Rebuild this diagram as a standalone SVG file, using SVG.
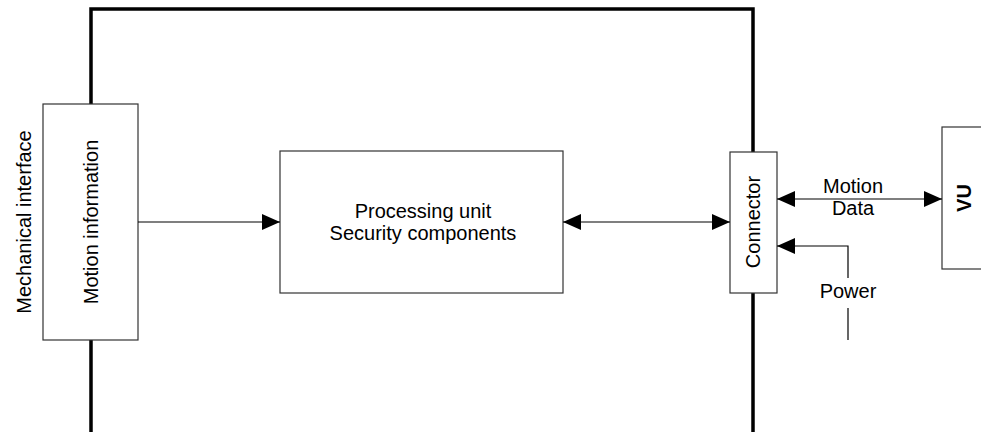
<svg xmlns="http://www.w3.org/2000/svg" width="981" height="432" viewBox="0 0 981 432">
<style>
.box{fill:#fff;stroke:#333;stroke-width:1.2}
.wire{fill:none;stroke:#000;stroke-width:1.2}
.frame{fill:none;stroke:#000;stroke-width:3.5}
text{font-family:"Liberation Sans",Arial,sans-serif;font-size:20px;fill:#000}
.c{text-anchor:middle}
</style>
<defs>
<marker id="ah" markerUnits="userSpaceOnUse" markerWidth="18" markerHeight="16" refX="18" refY="8" orient="auto-start-reverse" viewBox="0 0 18 16">
<path d="M0,0 L18,8 L0,16 Z" fill="#000"/>
</marker>
</defs>
<path class="frame" d="M91,432 V9 H753 V432"/>
<g id="mechanical-interface">
<text class="c" transform="translate(31,222) rotate(-90)">Mechanical interface</text>
</g>
<g id="motion-information">
<rect class="box" x="43" y="104" width="95" height="236"/>
<text class="c" transform="translate(98,222) rotate(-90)">Motion information</text>
</g>
<g id="processing-unit">
<rect class="box" x="280" y="151" width="283" height="142"/>
<text class="c" x="423" y="218">Processing unit</text>
<text class="c" x="423" y="240">Security components</text>
</g>
<g id="connector">
<rect class="box" x="730" y="152" width="47" height="141"/>
<text class="c" transform="translate(760,222) rotate(-90)">Connector</text>
</g>
<g id="vu">
<rect class="box" x="942" y="127" width="60" height="142"/>
<text class="c" style="font-weight:bold" transform="translate(971,198) rotate(-90)">VU</text>
</g>
<g id="connectors">
<line class="wire" x1="138" y1="222" x2="280" y2="222" marker-end="url(#ah)"/>
<line class="wire" x1="563" y1="222" x2="730" y2="222" marker-start="url(#ah)" marker-end="url(#ah)"/>
<line class="wire" x1="777" y1="199" x2="942" y2="199" marker-start="url(#ah)" marker-end="url(#ah)"/>
<path class="wire" d="M848,278 V246 H777" marker-end="url(#ah)"/>
<line class="wire" x1="848" y1="308" x2="848" y2="340"/>
<text class="c" x="853" y="193">Motion</text>
<text class="c" x="853" y="215">Data</text>
<text class="c" x="848" y="298">Power</text>
</g>
</svg>
